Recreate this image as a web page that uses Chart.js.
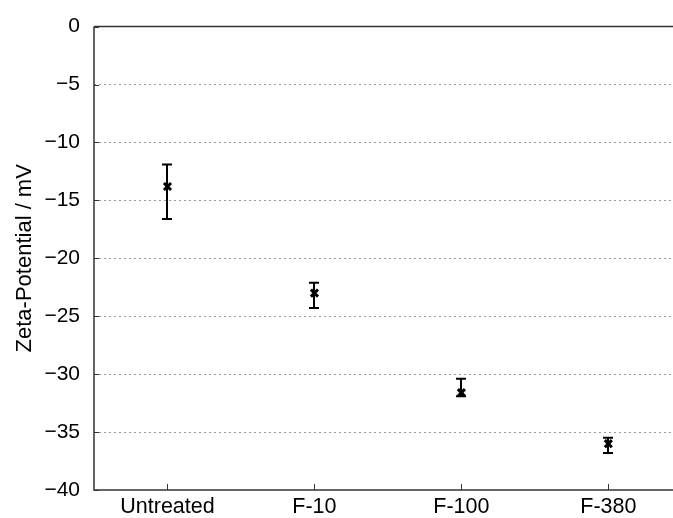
<!DOCTYPE html>
<html>
<head>
<meta charset="utf-8">
<script src="https://cdn.jsdelivr.net/npm/chart.js@4/dist/chart.umd.min.js"></script>
<style>
  html, body { margin: 0; padding: 0; background: #fff; }
  #wrap { width: 673px; height: 518px; }
</style>
</head>
<body>
<div id="wrap"><canvas id="graficoZeta" width="673" height="518"></canvas></div>
<script>
var categorias = ["Untreated", "F-10", "F-100", "F-380"];
var zeta = [-13.8, -23.0, -31.6, -36.0];
var erroTopo = [-11.9, -22.1, -30.4, -35.5];
var erroBase = [-16.6, -24.3, -31.9, -36.8];
var yTicks = [0, -5, -10, -15, -20, -25, -30, -35, -40];

var pontos = zeta.map(function(v, i) { return { x: i + 1, y: v }; });

var molduraPlugin = {
    id: "moldura",
    afterDatasetsDraw: function(chart) {
        var ctx = chart.ctx;
        var area = chart.chartArea;
        var xs = chart.scales.x;
        var ys = chart.scales.y;
        ctx.save();
        // barras de erro
        ctx.strokeStyle = "#000";
        ctx.lineWidth = 2;
        for (var i = 0; i < zeta.length; i++) {
            var px = Math.round(xs.getPixelForValue(i + 1));
            var yt = ys.getPixelForValue(erroTopo[i]);
            var yb = ys.getPixelForValue(erroBase[i]);
            ctx.beginPath();
            ctx.moveTo(px, yt); ctx.lineTo(px, yb);
            ctx.moveTo(px - 5, yt); ctx.lineTo(px + 5, yt);
            ctx.moveTo(px - 5, yb); ctx.lineTo(px + 5, yb);
            ctx.stroke();
        }
        // moldura
        ctx.strokeStyle = "#333";
        ctx.lineWidth = 1.5;
        ctx.beginPath();
        ctx.moveTo(area.left, area.top); ctx.lineTo(area.right, area.top);
        ctx.moveTo(area.left, area.top); ctx.lineTo(area.left, area.bottom);
        ctx.lineTo(area.right, area.bottom);
        ctx.stroke();
        // marcas internas
        ctx.lineWidth = 1;
        yTicks.forEach(function(t) {
            var py = Math.round(ys.getPixelForValue(t)) + 0.5;
            ctx.beginPath();
            ctx.moveTo(area.left, py); ctx.lineTo(area.left + 5, py);
            ctx.stroke();
        });
        categorias.forEach(function(c, i) {
            var px = Math.round(xs.getPixelForValue(i + 1)) + 0.5;
            ctx.beginPath();
            ctx.moveTo(px, area.bottom); ctx.lineTo(px, area.bottom - 6);
            ctx.stroke();
        });
        ctx.restore();
    }
};

var ctx = document.getElementById("graficoZeta").getContext("2d");
var grafico = new Chart(ctx, {
    type: "scatter",
    data: {
        datasets: [{
            label: "Zeta-Potential",
            data: pontos,
            pointStyle: "crossRot",
            pointRadius: 5,
            pointBorderWidth: 3,
            borderColor: "#000",
            backgroundColor: "#000"
        }]
    },
    options: {
        responsive: false,
        animation: false,
        layout: { autoPadding: false, padding: { top: 26, right: 0, left: 0, bottom: 0 } },
        plugins: {
            legend: { display: false },
            tooltip: { enabled: false }
        },
        scales: {
            x: {
                type: "linear",
                min: 0.5,
                max: 4.44,
                afterBuildTicks: function(axis) {
                    axis.ticks = categorias.map(function(c, i) { return { value: i + 1 }; });
                },
                afterFit: function(axis) { axis.height = 28; },
                grid: { display: false, drawTicks: false },
                border: { display: false },
                ticks: {
                    color: "#000",
                    padding: 4,
                    maxRotation: 0,
                    font: { family: "Liberation Sans", size: 21.5 },
                    callback: function(v) { return categorias[v - 1]; }
                }
            },
            y: {
                min: -40,
                max: 0,
                afterBuildTicks: function(axis) {
                    axis.ticks = yTicks.map(function(t) { return { value: t }; });
                },
                afterFit: function(axis) { axis.width = 94; },
                grid: {
                    drawTicks: false,
                    color: function(c) {
                        var v = c.tick ? c.tick.value : 0;
                        return (v === 0 || v === -40) ? "rgba(0,0,0,0)" : "#999";
                    },
                    lineWidth: 1
                },
                border: { display: false, dash: [2, 3] },
                title: {
                    display: true,
                    text: "Zeta-Potential / mV",
                    color: "#000",
                    padding: { top: 12, bottom: 0 },
                    font: { family: "Liberation Sans", size: 22 }
                },
                ticks: {
                    color: "#000",
                    padding: 14,
                    font: { family: "Liberation Sans", size: 21 },
                    callback: function(v) { return v < 0 ? "\u2212" + Math.abs(v) : "" + v; }
                }
            }
        }
    },
    plugins: [molduraPlugin]
});
</script>
</body>
</html>
